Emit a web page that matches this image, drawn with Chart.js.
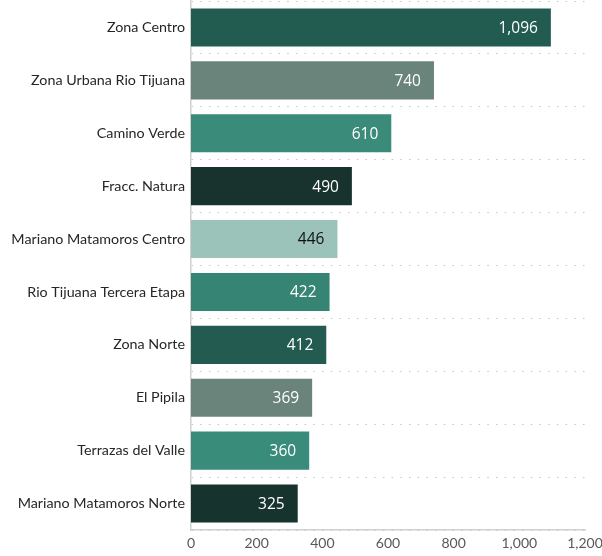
<!DOCTYPE html>
<html>
<head>
<meta charset="utf-8">
<script src="https://cdn.jsdelivr.net/npm/chart.js@4.4.1/dist/chart.umd.min.js"></script>
<style>
    html, body { margin: 0; padding: 0; background: #fff; }
    #chart { display: block; }
</style>
</head>
<body>
<canvas id="chart" width="602" height="556"></canvas>
<script>
// Colonias, ordered from largest to smallest
const zones = [
    'Zona Centro',
    'Zona Urbana Rio Tijuana',
    'Camino Verde',
    'Fracc. Natura',
    'Mariano Matamoros Centro',
    'Rio Tijuana Tercera Etapa',
    'Zona Norte',
    'El Pipila',
    'Terrazas del Valle',
    'Mariano Matamoros Norte'
];
const counts = [1096, 740, 610, 490, 446, 422, 412, 369, 360, 325];
const xTicks = [0, 200, 400, 600, 800, 1000, 1200];

const barColors = ['#225c51', '#6a847b', '#3a8b79', '#18332d', '#9cc3b9', '#368474', '#235b50', '#6a847b', '#3a8c7a', '#17332d'];
const labelColors = ['#fff', '#fff', '#fff', '#fff', '#111', '#fff', '#fff', '#fff', '#fff', '#fff'];

const fmt = new Intl.NumberFormat('en-US');

// value labels drawn inside the end of each bar
const insideEndLabels = {
    id: 'insideEndLabels',
    afterDatasetsDraw(chart) {
        const ctx = chart.ctx;
        const meta = chart.getDatasetMeta(0);
        ctx.save();
        ctx.font = '15.5px "Open Sans", sans-serif';
        ctx.textAlign = 'right';
        ctx.textBaseline = 'middle';
        meta.data.forEach((bar, i) => {
            ctx.fillStyle = labelColors[i];
            ctx.fillText(fmt.format(counts[i]), bar.x - 13, bar.y + 1);
        });
        ctx.restore();
    }
};

new Chart(document.getElementById('chart'), {
    type: 'bar',
    data: {
        labels: zones,
        datasets: [{
            data: counts,
            backgroundColor: barColors,
            borderWidth: 0,
            categoryPercentage: 1,
            barPercentage: 0.72
        }]
    },
    options: {
        indexAxis: 'y',
        responsive: false,
        animation: false,
        layout: { padding: { top: 1, right: 0, bottom: 0, left: 0 } },
        plugins: {
            legend: { display: false },
            tooltip: { enabled: false }
        },
        scales: {
            x: {
                min: 0,
                max: 1200,
                afterBuildTicks: scale => { scale.ticks = xTicks.map(v => ({ value: v })); },
                afterFit: scale => {
                    scale.paddingRight = 17;
                    scale.height = 26;
                },
                grid: { display: false, drawTicks: false },
                border: { display: true, color: '#d0d0d0', width: 1.5 },
                ticks: {
                    color: '#595959',
                    padding: 5,
                    maxRotation: 0,
                    font: { family: 'Lato, sans-serif', size: 14 },
                    callback: v => fmt.format(v)
                }
            },
            y: {
                afterFit: scale => {
                    scale.width = 191;
                    scale.paddingTop = 0;
                    scale.paddingBottom = 0;
                },
                grid: { color: '#c4c4c4', lineWidth: 1, drawTicks: false, offset: true },
                border: { display: true, color: '#d0d0d0', width: 1.5, dash: [1.5, 7.2] },
                ticks: {
                    color: '#262626',
                    padding: 6,
                    font: { family: 'Lato, sans-serif', size: 14.3 }
                }
            }
        }
    },
    plugins: [insideEndLabels]
});
</script>
</body>
</html>
